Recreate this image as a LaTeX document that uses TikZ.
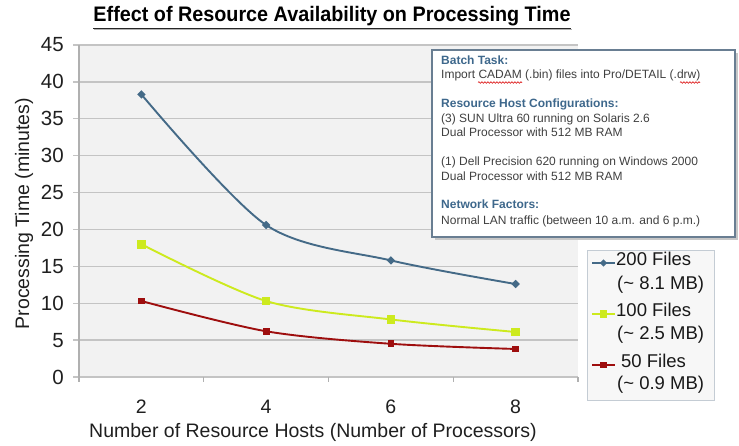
\documentclass[tikz,border=0pt]{standalone}
\usepackage{fontspec}
\setmainfont{Liberation Sans}
\usetikzlibrary{decorations.pathmorphing}

\definecolor{serA}{RGB}{68,106,135}
\definecolor{serB}{RGB}{205,234,30}
\definecolor{serC}{RGB}{158,14,14}
\definecolor{plotbg}{RGB}{242,242,242}
\definecolor{gridc}{RGB}{196,196,196}
\definecolor{headc}{RGB}{62,104,140}
\definecolor{bodyc}{RGB}{64,64,64}
\definecolor{boxframe}{RGB}{105,126,146}
\definecolor{legframe}{RGB}{196,204,212}

\tikzset{
  axislabel/.style={font=\fontsize{19.5}{22}\selectfont, text=black!88, inner sep=0pt},
  ticklabel/.style={axislabel, font=\fontsize{20.5}{22}\selectfont, anchor=east},
  catlabel/.style={axislabel, anchor=center},
  gridline/.style={draw=gridc, line width=1.4pt},
  axisline/.style={draw=gridc!90!black, line width=1.2pt},
  series/.style={line width=1.9pt, line join=round, line cap=round},
  infohead/.style={font=\fontsize{12}{14}\selectfont\bfseries, text=headc, anchor=mid west, inner sep=0pt},
  infobody/.style={font=\fontsize{12}{14}\selectfont, text=bodyc, anchor=mid west, inner sep=0pt},
  legtext/.style={font=\fontsize{18.5}{22}\selectfont, text=black!90, anchor=mid west, inner sep=0pt},
  squiggle/.style={draw=red!85!black, line width=0.6pt, decorate,
    decoration={snake, amplitude=0.8pt, segment length=3pt}},
}

\begin{document}
\begin{tikzpicture}[x=1pt, y=-1pt,
  declare function={vy(\v)=377-7.378*\v;}]
\useasboundingbox (0,0) rectangle (739,445);

% title
\node[inner sep=0pt, anchor=center] (title) at (332,16.5)
  {\resizebox{477pt}{\height}{\fontsize{21}{24}\selectfont\bfseries Effect of Resource Availability on Processing Time}};
\draw[black!30, line width=1.3pt] (94,29.6) -- (572,29.6);
\draw[black!85, line width=1.1pt] (93,28.4) -- (571,28.4);

% plot area and grid
\fill[plotbg] (79,45) rectangle (578,377);
\foreach \v in {0,5,...,45} {
  \draw[gridline] (73,{vy(\v)}) -- (578,{vy(\v)});
  \node[ticklabel] (tick\v) at (64,{vy(\v)}) {\v};
}
\draw[axisline] (79,45) -- (79,382);
\foreach \k in {0,1,2,3,4} {
  \draw[axisline] ({79+124.75*\k},377) -- ({79+124.75*\k},382);
}
\foreach \c [count=\i from 0] in {2,4,6,8} {
  \node[catlabel] (cat\c) at ({141.4+124.75*\i},407) {\c};
}

% axis titles
\node[axislabel, rotate=90] (ytitle) at (24,213.5) {Processing Time (minutes)};
\node[axislabel] (xtitle) at (313,432) {Number of Resource Hosts (Number of Processors)};

% data series
\draw[series, serA] plot[smooth, tension=0.5] coordinates
  {(141.4,{vy(38.3)}) (266.1,{vy(20.6)}) (390.9,{vy(15.8)}) (515.6,{vy(12.6)})};
\foreach \x/\v in {141.4/38.3, 266.1/20.6, 390.9/15.8, 515.6/12.6}
  \fill[serA] (\x,{vy(\v)}) +(-4.2,0) -- +(0,-4.2) -- +(4.2,0) -- +(0,4.2) -- cycle;

\draw[series, serB] plot[smooth, tension=0.5] coordinates
  {(141.4,{vy(18.0)}) (266.1,{vy(10.3)}) (390.9,{vy(7.8)}) (515.6,{vy(6.1)})};
\foreach \x/\v in {141.4/18.0, 266.1/10.3, 390.9/7.8, 515.6/6.1}
  \fill[serB] (\x,{vy(\v)}) +(-4.3,-4.3) rectangle +(4.3,4.3);

\draw[series, serC] plot[smooth, tension=0.5] coordinates
  {(141.4,{vy(10.3)}) (266.1,{vy(6.2)}) (390.9,{vy(4.5)}) (515.6,{vy(3.8)})};
\foreach \x/\v in {141.4/10.3, 266.1/6.2, 390.9/4.5, 515.6/3.8}
  \fill[serC] (\x,{vy(\v)}) +(-3.4,-3.4) rectangle +(3.4,3.4);

% information box
\fill[black!22] (434.5,52.5) rectangle (737.5,239.5);
\draw[fill=white, draw=boxframe, line width=1.2pt] (432,50) rectangle (735,237);
\node[infohead] (bt)  at (441,61.7)  {Batch Task:};
\node[infobody] (bt1) at (441,75.7)  {Import CADAM (.bin) files into Pro/DETAIL (.drw)};
\node[infohead] (rh)  at (441,105)   {Resource Host Configurations:};
\node[infobody] (rh1) at (441,120)   {(3) SUN Ultra 60 running on Solaris 2.6};
\node[infobody] (rh2) at (441,134.3) {Dual Processor with 512 MB RAM};
\node[infobody] (rh3) at (441,163.3) {(1) Dell Precision 620 running on Windows 2000};
\node[infobody] (rh4) at (441,177.7) {Dual Processor with 512 MB RAM};
\node[infohead] (nf)  at (441,205.7) {Network Factors:};
\node[infobody] (nf1) at (441,221.7) {Normal LAN traffic (between 10 a.m. and 6 p.m.)};
\draw[squiggle] (478,82.5) -- (522,82.5);
\draw[squiggle] (680,82.5) -- (700,82.5);

% legend
\draw[fill=white!97!black, draw=legframe, line width=1pt] (587,250) rectangle (714,400);
\draw[series, serA, line cap=butt] (592,263) -- (615,263);
\fill[serA] (603.5,263) +(-3.6,0) -- +(0,-3.6) -- +(3.6,0) -- +(0,3.6) -- cycle;
\node[legtext] (l1a) at (616,263) {200 Files};
\node[legtext] (l1b) at (617,287) {(\char"007E{} 8.1 MB)};
\draw[series, serB, line cap=butt] (592,314) -- (615,314);
\fill[serB] (603.5,314) +(-3.8,-3.8) rectangle +(3.8,3.8);
\node[legtext] (l2a) at (616,314) {100 Files};
\node[legtext] (l2b) at (617,337) {(\char"007E{} 2.5 MB)};
\draw[series, serC, line cap=butt] (592,365) -- (615,365);
\fill[serC] (603.5,365) +(-3.2,-3.2) rectangle +(3.2,3.2);
\node[legtext] (l3a) at (621,365) {50 Files};
\node[legtext] (l3b) at (617,387) {(\char"007E{} 0.9 MB)};
\end{tikzpicture}
\end{document}
